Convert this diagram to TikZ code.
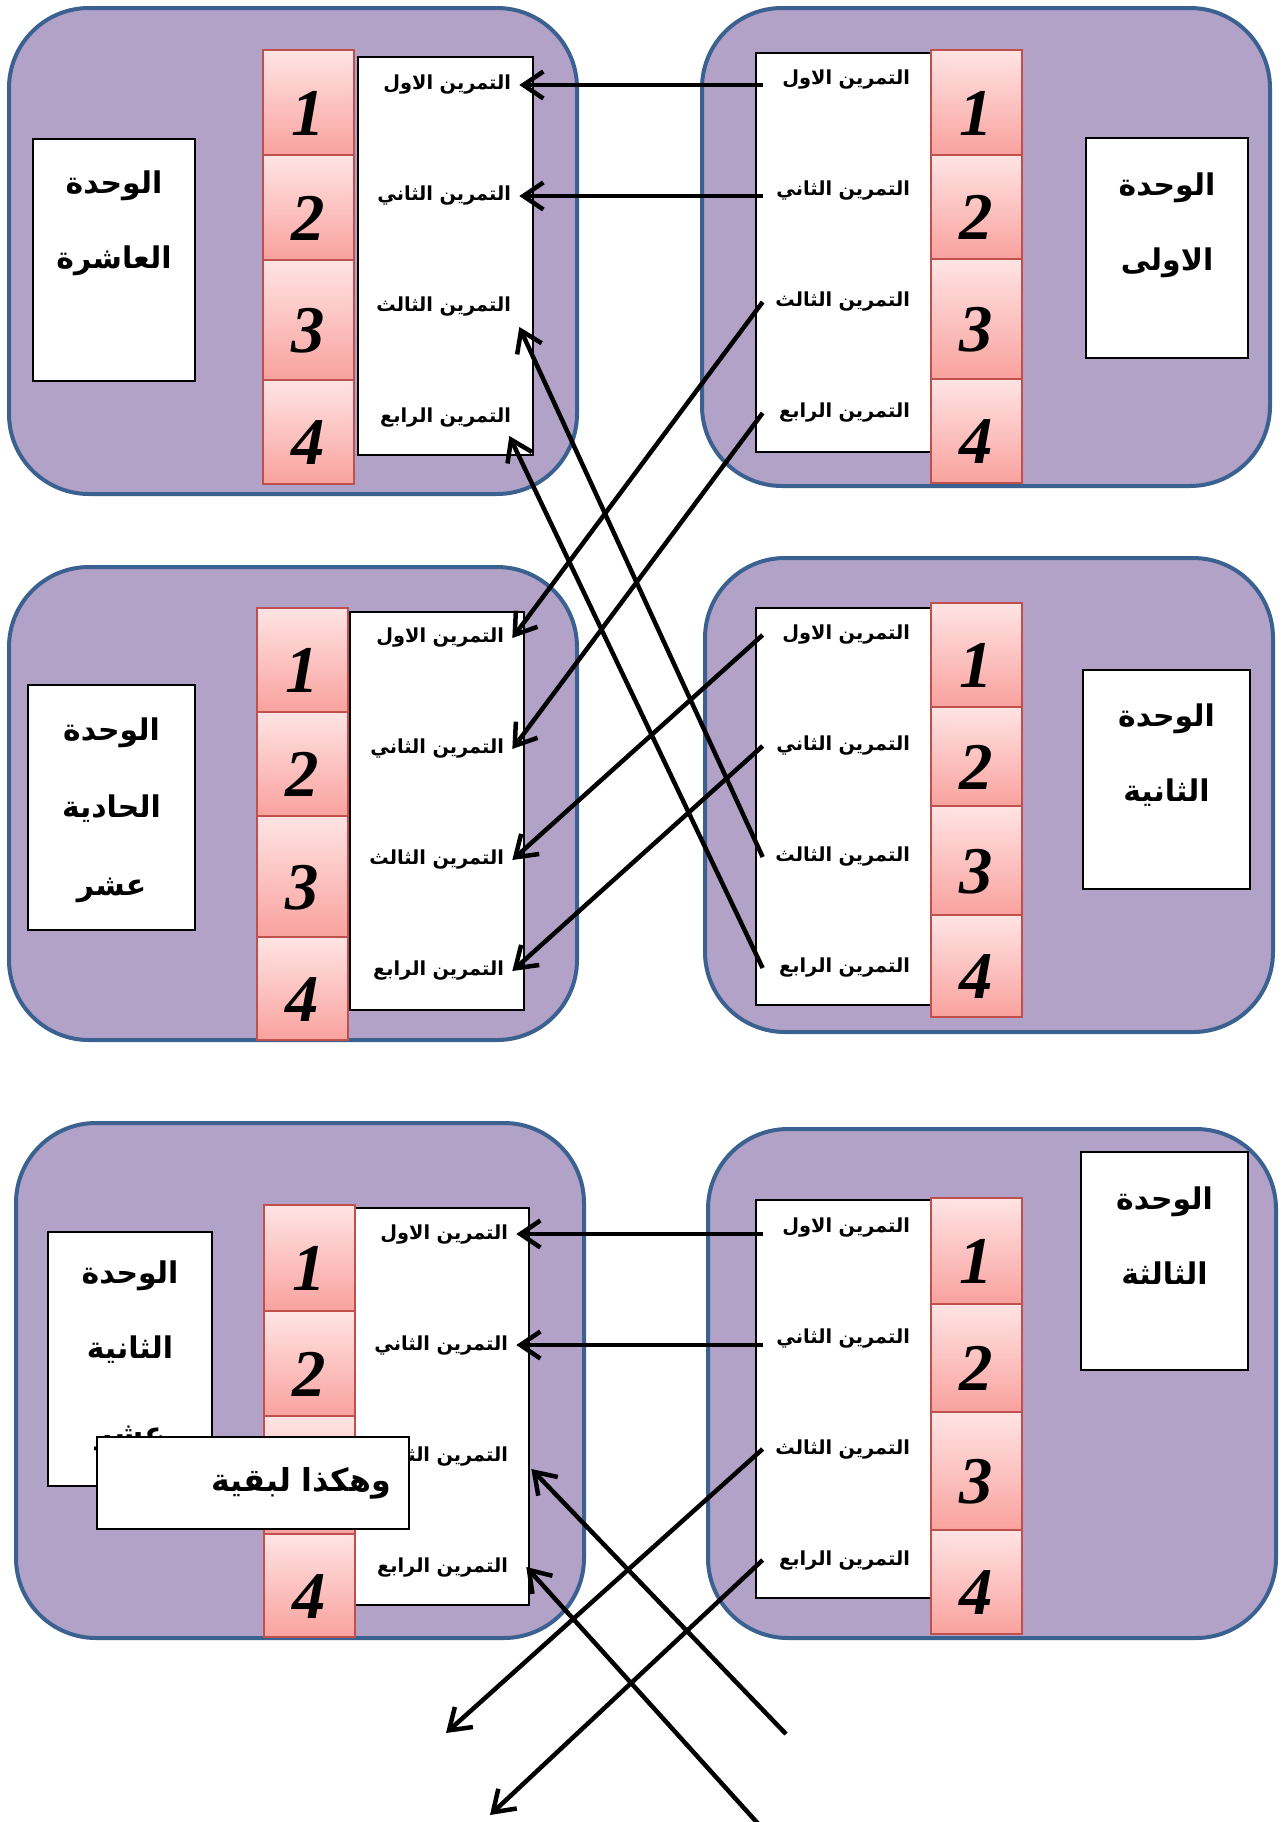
\documentclass[tikz,border=0pt]{standalone}
\usepackage{fontspec}
\usetikzlibrary{arrows.meta}
\TeXXeTstate=1
\newfontfamily\arabicfont[Script=Arabic]{DejaVu Sans}
\newfontfamily\numfont{Liberation Serif}

\definecolor{panelfill}{HTML}{B3A2C7}
\definecolor{panelblue}{HTML}{3A6190}
\definecolor{cellred}{HTML}{C0504D}
\definecolor{celltop}{HTML}{FFE4E4}
\definecolor{cellbot}{HTML}{F9A29E}

\tikzset{
  panel/.style={draw=panelblue,line width=0.8mm,fill=panelfill,rounded corners=16mm},
  exbox/.style={draw=black,line width=0.4mm,fill=white,inner sep=0pt,outer sep=0pt},
  numcell/.style={draw=cellred,line width=0.4mm,top color=celltop,bottom color=cellbot,
    inner sep=0pt,outer sep=0pt,minimum width=18.2mm,text height=13mm,text depth=0pt,
    font=\numfont\bfseries\itshape\fontsize{38}{40}\selectfont},
  exer/.style={text width=27.8mm,align=right,inner xsep=1.6mm,inner ysep=0pt,
    font=\arabicfont\bfseries\fontsize{11}{13}\selectfont},
  unitname/.style={align=center,font=\arabicfont\bfseries\fontsize{17}{15mm}\selectfont},
  link/.style={line width=0.9mm,-{Straight Barb[length=4mm,width=5.4mm]}},
}

% the four exercise labels of one unit
\newcommand\exercises[3]{%
  \foreach \n/\word in {1/الاول,2/الثاني,3/الثالث,4/الرابع}
    \node[exer] (#1\n) at (#2,{#3+111*(\n-1)}) {\beginR التمرين \word\endR};}

\begin{document}
\begin{tikzpicture}[x=0.2mm,y=-0.2mm]
  \useasboundingbox (0,0) rectangle (1285,1822);

  % top left: unit 10
  \draw[panel] (9,8) rectangle (577,494);
  \node[exbox,minimum width=35mm,minimum height=79.6mm] (tlbox) at (445.5,256) {};
  \foreach \n/\a/\b in {1/50/155,2/155/260,3/260/380,4/380/484}
    \node[numcell,minimum height={(\b-\a)*0.2mm}] (tlc\n) at (308.5,{(\a+\b)/2}) {\n};
  \exercises{tl}{441.5}{85}
  \node[exbox,minimum width=32.4mm,minimum height=48.4mm] (tlu) at (114,260) {};
  \node[unitname] (tlname) at (114,223.5) {\beginR الوحدة\endR\\\beginR العاشرة\endR};

  % top right: unit 1
  \draw[panel] (702,8) rectangle (1270,486);
  \node[exbox,minimum width=35mm,minimum height=79.8mm] (trbox) at (843.5,252.5) {};
  \foreach \n/\a/\b in {1/50/155,2/155/259,3/259/379,4/379/483}
    \node[numcell,minimum height={(\b-\a)*0.2mm}] (trc\n) at (976,{(\a+\b)/2}) {\n};
  \exercises{tr}{840.5}{80}
  \node[exbox,minimum width=32.4mm,minimum height=44mm] (tru) at (1167,248) {};
  \node[unitname] (trname) at (1167,225) {\beginR الوحدة\endR\\\beginR الاولى\endR};

  % middle left: unit 11
  \draw[panel] (9,567) rectangle (577,1040);
  \node[exbox,minimum width=34.8mm,minimum height=79.6mm] (mlbox) at (437,811) {};
  \foreach \n/\a/\b in {1/608/712,2/712/816,3/816/937,4/937/1040}
    \node[numcell,minimum height={(\b-\a)*0.2mm}] (mlc\n) at (302.5,{(\a+\b)/2}) {\n};
  \exercises{ml}{434.5}{638}
  \node[exbox,minimum width=33.4mm,minimum height=49mm] (mlu) at (111.5,807.5) {};
  \node[unitname,font=\arabicfont\bfseries\fontsize{17}{15.5mm}\selectfont] (mlname) at (111.5,810)
    {\beginR الوحدة\endR\\\beginR الحادية\endR\\\beginR عشر\endR};

  % middle right: unit 2
  \draw[panel] (705,558) rectangle (1273,1032);
  \node[exbox,minimum width=35mm,minimum height=79.4mm] (mrbox) at (843.5,806.5) {};
  \foreach \n/\a/\b in {1/603/707,2/707/806,3/806/915,4/915/1017}
    \node[numcell,minimum height={(\b-\a)*0.2mm}] (mrc\n) at (976.5,{(\a+\b)/2}) {\n};
  \exercises{mr}{840.5}{635}
  \node[exbox,minimum width=33.4mm,minimum height=43.8mm] (mru) at (1166.5,779.5) {};
  \node[unitname] (mrname) at (1166.5,755.5) {\beginR الوحدة\endR\\\beginR الثانية\endR};

  % bottom left: unit 12
  \draw[panel] (16,1123) rectangle (584,1638);
  \node[exbox,minimum width=35mm,minimum height=79.4mm] (blbox) at (441.5,1406.5) {};
  \foreach \n/\a/\b in {1/1205/1311,2/1311/1416,3/1416/1534,4/1534/1637}
    \node[numcell,minimum height={(\b-\a)*0.2mm}] (blc\n) at (309,{(\a+\b)/2}) {\n};
  \exercises{bl}{438.5}{1234}
  \node[exbox,minimum width=32.8mm,minimum height=50.8mm] (blu) at (130,1359) {};
  \node[unitname] (blname) at (130,1312.5) {\beginR الوحدة\endR\\\beginR الثانية\endR};
  \node[unitname] (blname2) at (130,1438) {\beginR عشر\endR};
  \node[exbox,minimum width=62.4mm,minimum height=18.4mm,text width=55.2mm,align=right,
    inner xsep=3.6mm,font=\arabicfont\bfseries\fontsize{18}{20}\selectfont] (rest) at (253,1483)
    {\beginR وهكذا لبقية\endR};

  % bottom right: unit 3
  \draw[panel] (708,1129) rectangle (1276,1638);
  \node[exbox,minimum width=35mm,minimum height=79.6mm] (brbox) at (843.5,1399) {};
  \foreach \n/\a/\b in {1/1198/1304,2/1304/1412,3/1412/1530,4/1530/1634}
    \node[numcell,minimum height={(\b-\a)*0.2mm}] (brc\n) at (976.5,{(\a+\b)/2}) {\n};
  \exercises{br}{840.5}{1227}
  \node[exbox,minimum width=33.4mm,minimum height=43.6mm] (bru) at (1164.5,1261) {};
  \node[unitname] (brname) at (1164.5,1236) {\beginR الوحدة\endR\\\beginR الثالثة\endR};

  % links
  \coordinate (away3) at (446,1733);
  \coordinate (away4) at (490,1815);
  \coordinate (back3) at (786,1734);
  \coordinate (back4) at (762,1828);
  \draw[link] (tr1.west |- tl1) -- (tl1.east);
  \draw[link] (tr2.west |- tl2) -- (tl2.east);
  \draw[link] (tr3.west) -- (ml1.east);
  \draw[link] (tr4.west) -- (ml2.east);
  \draw[link] (mr1.west) -- (ml3.east);
  \draw[link] (mr2.west) -- (ml4.east);
  \draw[link] (mr3.west) -- ([yshift=-4mm]tl3.east);
  \draw[link] (mr4.west) -- ([shift={(-2mm,-3.6mm)}]tl4.east);
  \draw[link] (br1.west |- bl1) -- (bl1.east);
  \draw[link] (br2.west |- bl2) -- (bl2.east);
  \draw[link] (br3.west) -- (away3);
  \draw[link] (br4.west) -- (away4);
  \draw[link] (back3) -- ([shift={(3mm,-2.6mm)}]bl3.east);
  \draw[link] (back4) -- ([xshift=2mm]bl4.east);
\end{tikzpicture}
\end{document}
